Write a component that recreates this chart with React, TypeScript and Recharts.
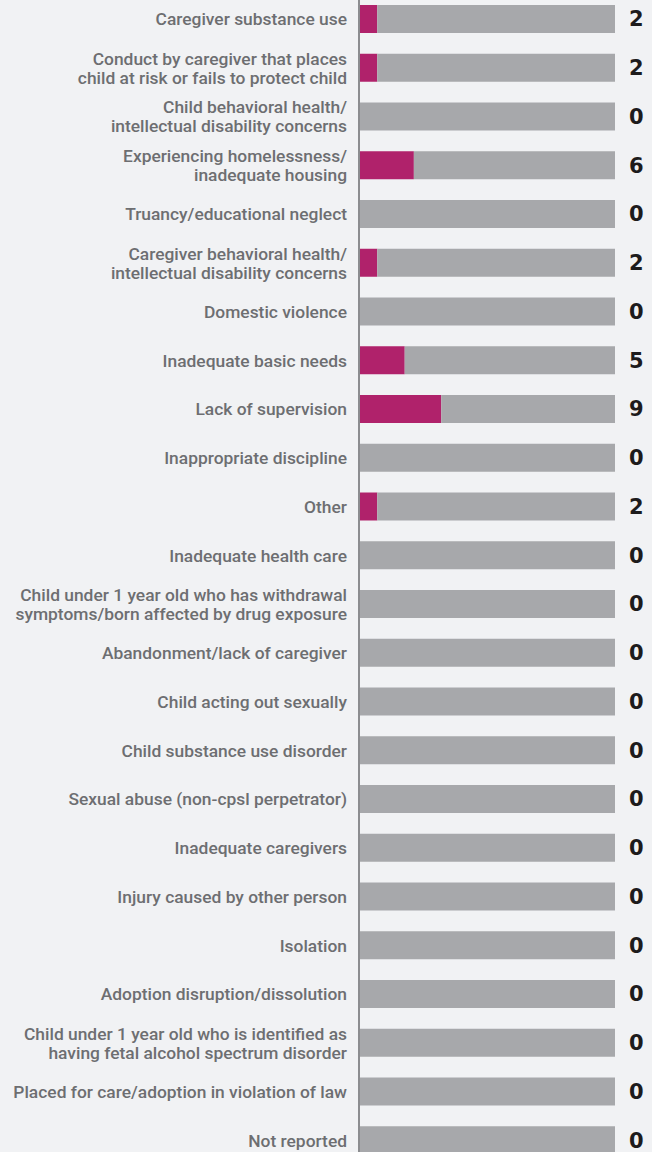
import { BarChart, Bar, XAxis, YAxis } from 'recharts';

const categories = [
  'Caregiver substance use',
  'Conduct by caregiver that places\nchild at risk or fails to protect child',
  'Child behavioral health/\nintellectual disability concerns',
  'Experiencing homelessness/\ninadequate housing',
  'Truancy/educational neglect',
  'Caregiver behavioral health/\nintellectual disability concerns',
  'Domestic violence',
  'Inadequate basic needs',
  'Lack of supervision',
  'Inappropriate discipline',
  'Other',
  'Inadequate health care',
  'Child under 1 year old who has withdrawal\nsymptoms/born affected by drug exposure',
  'Abandonment/lack of caregiver',
  'Child acting out sexually',
  'Child substance use disorder',
  'Sexual abuse (non-cpsl perpetrator)',
  'Inadequate caregivers',
  'Injury caused by other person',
  'Isolation',
  'Adoption disruption/dissolution',
  'Child under 1 year old who is identified as\nhaving fetal alcohol spectrum disorder',
  'Placed for care/adoption in violation of law',
  'Not reported',
];

const counts = [2, 2, 0, 6, 0, 2, 0, 5, 9, 0, 2, 0, 0, 0, 0, 0, 0, 0, 0, 0, 0, 0, 0, 0];

const total = counts.reduce((a, b) => a + b, 0);

// grey track = remainder of the total
const data = categories.map((label, i) => ({ label, count: counts[i], rest: total - counts[i] }));

const LeftTick = (props: any) => {
  const { x, y, payload } = props;
  const lines = String(payload.value).split('\n');
  const lh = 19;
  const start = y - ((lines.length - 1) * lh) / 2;
  return (
    <text
      x={x}
      y={start}
      textAnchor="end"
      dominantBaseline="central"
      fill="#6d6e71"
      fontFamily="Roboto"
      fontWeight={500}
      fontSize={17.4}
    >
      {lines.map((l, i) => (
        <tspan key={i} x={x} y={start + i * lh}>
          {l}
        </tspan>
      ))}
    </text>
  );
};

const RightTick = (props: any) => {
  const { x, y, index } = props;
  return (
    <text
      x={x}
      y={y}
      textAnchor="start"
      dominantBaseline="central"
      fill="#1d1b1c"
      fontFamily="DejaVu Sans"
      fontWeight={700}
      fontSize={21}
    >
      {counts[index]}
    </text>
  );
};

export default function App() {
  return (
    <div
      style={{
        position: 'absolute',
        left: 0,
        top: 0,
        width: 652,
        height: 1152,
        overflow: 'hidden',
        background: '#f1f2f4',
      }}
    >
      <div style={{ position: 'absolute', left: 0, top: -5.4 }}>
        <BarChart
          width={652}
          height={1170}
          data={data}
          layout="vertical"
          margin={{ top: 0, right: 0, bottom: 0, left: 0 }}
          barSize={28}
        >
          <XAxis type="number" domain={[0, total]} hide />
          <YAxis
            yAxisId="left"
            type="category"
            dataKey="label"
            width={359}
            interval={0}
            axisLine={{ stroke: '#8c8d90', strokeWidth: 2 }}
            tickLine={false}
            tickSize={0}
            tickMargin={12}
            tick={<LeftTick />}
          />
          <YAxis
            yAxisId="right"
            orientation="right"
            type="category"
            dataKey="label"
            width={37}
            interval={0}
            axisLine={false}
            tickLine={false}
            tickSize={0}
            tickMargin={14}
            tick={<RightTick />}
          />
          <Bar yAxisId="left" dataKey="count" stackId="a" fill="#b0226b" isAnimationActive={false} />
          <Bar yAxisId="left" dataKey="rest" stackId="a" fill="#a7a8ab" isAnimationActive={false} />
        </BarChart>
      </div>
    </div>
  );
}
